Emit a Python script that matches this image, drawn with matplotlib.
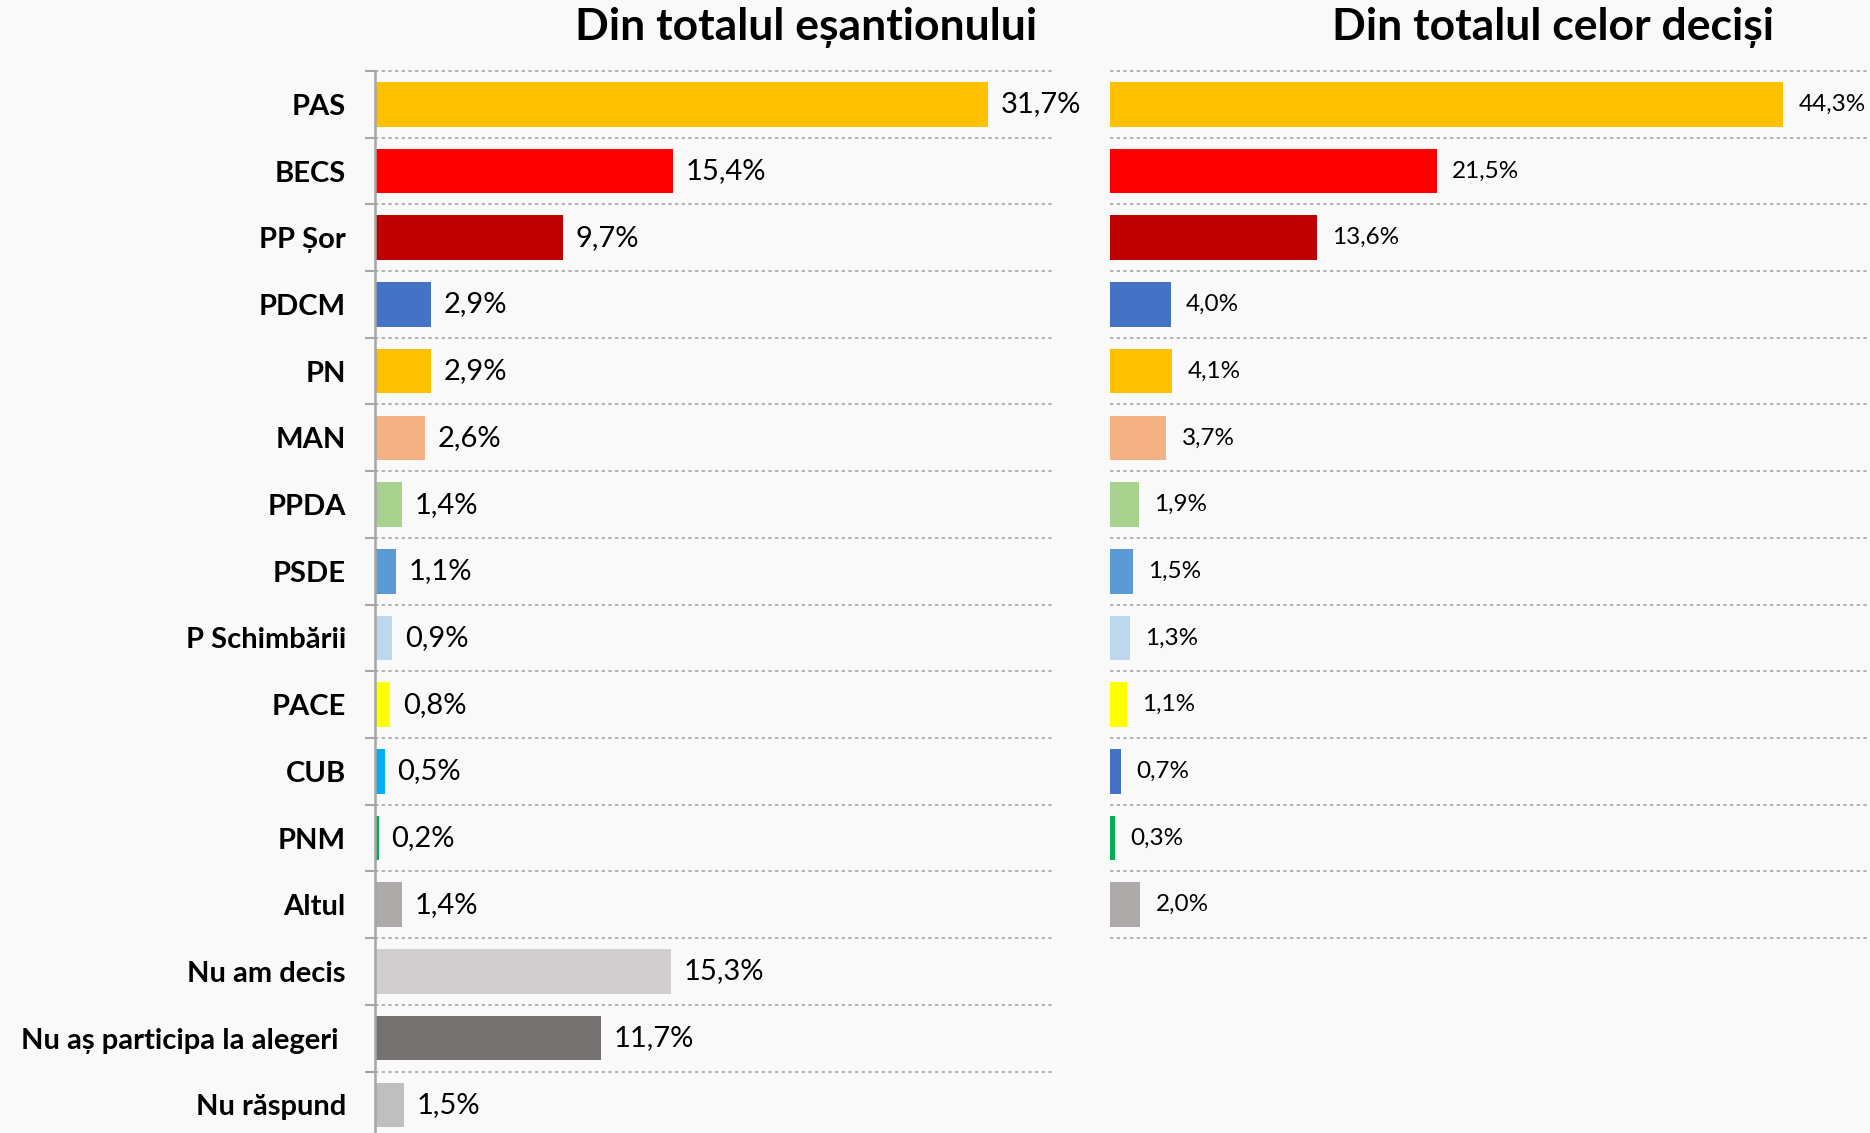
import numpy as np
import matplotlib.pyplot as plt

plt.rcParams['font.family'] = ['Lato', 'DejaVu Sans']

# left chart - whole sample
labels1 = ['PAS', 'BECS', 'PP Șor', 'PDCM', 'PN', 'MAN', 'PPDA', 'PSDE',
           'P Schimbării', 'PACE', 'CUB', 'PNM', 'Altul', 'Nu am decis',
           'Nu aș participa la alegeri ', 'Nu răspund']
values1 = [31.7, 15.4, 9.7, 2.9, 2.9, 2.6, 1.4, 1.1, 0.9, 0.8, 0.5, 0.2, 1.4,
           15.3, 11.7, 1.5]
colors1 = ['#FFC000', '#FF0000', '#C00000', '#4472C4', '#FFC000', '#F4B183',
           '#A9D18E', '#5B9BD5', '#BDD7EE', '#FFFF00', '#00B0F0', '#00B050',
           '#AEAAAA', '#D0CECE', '#767171', '#BFBFBF']

# right chart - decided voters only
values2 = [44.3, 21.5, 13.6, 4.0, 4.1, 3.7, 1.9, 1.5, 1.3, 1.1, 0.7, 0.3, 2.0]
colors2 = ['#FFC000', '#FF0000', '#C00000', '#4472C4', '#FFC000', '#F4B183',
           '#A9D18E', '#5B9BD5', '#BDD7EE', '#FFFF00', '#4472C4', '#00B050',
           '#AEAAAA']

title1 = 'Din totalul eșantionului'
title2 = 'Din totalul celor deciși'

bg = '#F9F9F9'
gridc = '#A6A6A6'

W, H = 1870, 1133
fig = plt.figure(figsize=(W / 100, H / 100), dpi=100, facecolor=bg)

row = 66.7  # px per category
top = 71

def fmt(v):
  return ('%.1f%%' % v).replace('.', ',')

def setup(ax, n, xmax):
  ax.set_facecolor(bg)
  ax.set_xlim(0, xmax)
  ax.set_ylim(n - 0.5, -0.5)
  ax.set_xticks([])
  for s in ['top', 'right', 'bottom']:
    ax.spines[s].set_visible(False)
  ax.set_yticks(np.arange(n) - 0.5, minor=True)
  for k in range(n + 1):
    ax.axhline(k - 0.5, color=gridc, linestyle=(0, (2, 2)), linewidth=1.2,
               clip_on=False)

# left
h1 = len(labels1) * row
ax1 = fig.add_axes([375 / W, 1 - (top + h1) / H, (1052 - 375) / W, h1 / H])
setup(ax1, len(labels1), 35)
y1 = np.arange(len(labels1))
ax1.barh(y1, values1, height=0.67, color=colors1)
ax1.set_yticks(y1)
ax1.set_yticklabels(labels1, fontsize=21, fontweight='bold')
ax1.tick_params(axis='y', which='major', length=0, pad=21)
ax1.tick_params(axis='y', which='minor', length=7, width=1.5, color=gridc)
ax1.spines['left'].set_color(gridc)
ax1.spines['left'].set_linewidth(1.8)
for i, v in enumerate(values1):
  ax1.annotate(fmt(v), (v, i), xytext=(9, 0), textcoords='offset points',
               va='center', ha='left', fontsize=21)

# right
n2 = len(values2)
h2 = n2 * row
ax2 = fig.add_axes([1110 / W, 1 - (top + h2) / H, (W - 1110) / W, h2 / H])
setup(ax2, n2, 50)
y2 = np.arange(n2)
ax2.barh(y2, values2, height=0.67, color=colors2)
ax2.set_yticks([])
ax2.tick_params(axis='y', which='both', length=0)
ax2.spines['left'].set_visible(False)
for i, v in enumerate(values2):
  ax2.annotate(fmt(v), (v, i), xytext=(11, 0), textcoords='offset points',
               va='center', ha='left', fontsize=17.5)

fig.text(806 / W, 1 - 27 / H, title1, ha='center', va='center',
         fontsize=32, fontweight='bold')
fig.text(1553 / W, 1 - 27 / H, title2, ha='center', va='center',
         fontsize=32, fontweight='bold')

fig.savefig('out.png', dpi=100, facecolor=bg)
